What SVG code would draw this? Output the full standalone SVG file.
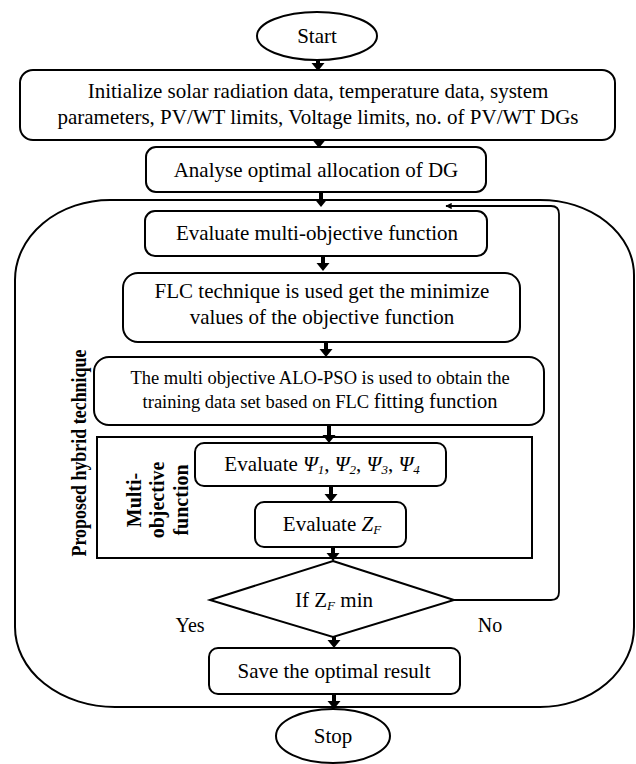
<svg xmlns="http://www.w3.org/2000/svg" width="636" height="764" viewBox="0 0 636 764">
  <defs>
    <style>
      .box { fill: #fff; stroke: #000; stroke-width: 2; }
      .frame { fill: none; stroke: #000; stroke-width: 2; }
      .t { font-family: "Liberation Serif", "Times New Roman", serif; fill: #000; text-anchor: middle; }
      .m { font-size: 21px; }
      .s { font-size: 18.5px; }
      .b { font-weight: bold; font-size: 20px; }
      .i { font-style: italic; }
      .sub { font-style: italic; font-size: 13px; }
      .flow { stroke: #000; stroke-width: 4; fill: none; }
      .loop { stroke: #000; stroke-width: 1.8; fill: none; }
      .tip { fill: #000; }
    </style>
    <!-- downward arrowhead, tip at the origin -->
    <path id="dn" class="tip" d="M-6.5,-8 L6.5,-8 L0,0 Z"/>
    <marker id="thin" viewBox="0 0 10 10" refX="9" refY="5" markerWidth="4.5" markerHeight="3.5" markerUnits="strokeWidth" orient="auto">
      <path d="M0,0 L10,5 L0,10 Z" fill="#000"/>
    </marker>
  </defs>

  <!-- outer frame of the hybrid technique -->
  <g id="hybrid-frame">
    <path class="frame" d="M110,200 L540,200 A94,75 0 0 1 634,275 L634,627 A94,80 0 0 1 540,707 L115,707 A100,80 0 0 1 15,627 L15,280 A95,80 0 0 1 110,200 Z"/>
    <text class="t b" transform="translate(86,453) rotate(-90)" textLength="207" lengthAdjust="spacingAndGlyphs">Proposed hybrid technique</text>
  </g>

  <g id="multi-frame">
    <rect class="frame" x="97" y="437" width="435" height="121"/>
    <text class="t b" font-size="21" transform="translate(0,500) rotate(-90)"><tspan x="0" y="141">Multi-</tspan><tspan x="0" y="164">objective</tspan><tspan x="0" y="188">function</tspan></text>
  </g>

  <g id="start">
    <ellipse class="box" cx="317" cy="36" rx="60" ry="24"/>
    <text class="t m" x="317" y="43">Start</text>
  </g>

  <g id="init">
    <rect class="box" x="20" y="70" width="595" height="70" rx="13"/>
    <text class="t m" x="318" y="98">Initialize solar radiation data, temperature data, system</text>
    <text class="t m" x="318" y="124">parameters, PV/WT limits, Voltage limits, no. of PV/WT DGs</text>
  </g>

  <g id="analyse">
    <rect class="box" x="146" y="147" width="340" height="45" rx="10"/>
    <text class="t m" x="316" y="177">Analyse optimal allocation of DG</text>
  </g>

  <g id="evaluate-mo">
    <rect class="box" x="145" y="211" width="342" height="45" rx="10"/>
    <text class="t m" x="317" y="240">Evaluate multi-objective function</text>
  </g>

  <g id="flc">
    <rect class="box" x="123" y="273" width="397" height="69" rx="15"/>
    <text class="t m" x="322" y="298">FLC technique is used get the minimize</text>
    <text class="t m" x="322" y="324">values of the objective function</text>
  </g>

  <g id="alo-pso">
    <rect class="box" x="94" y="357" width="450" height="68" rx="15"/>
    <text class="t s" x="320" y="384">The multi objective ALO-PSO is used to obtain the</text>
    <text class="t s" x="320" y="408">training data set based on FLC <tspan font-size="20.5">fitting function</tspan></text>
  </g>

  <g id="eval-psi">
    <rect class="box" x="195" y="443" width="251" height="43" rx="9"/>
    <text class="t m" x="322" y="471">Evaluate <tspan class="i">Ψ</tspan><tspan class="sub" dy="3">1</tspan><tspan dy="-3">, </tspan><tspan class="i">Ψ</tspan><tspan class="sub" dy="3">2</tspan><tspan dy="-3">, </tspan><tspan class="i">Ψ</tspan><tspan class="sub" dy="3">3</tspan><tspan dy="-3">, </tspan><tspan class="i">Ψ</tspan><tspan class="sub" dy="3">4</tspan></text>
  </g>

  <g id="eval-zf">
    <rect class="box" x="255" y="502" width="151" height="45" rx="9"/>
    <text class="t m" x="332" y="531">Evaluate <tspan class="i">Z</tspan><tspan class="sub" dy="3">F</tspan></text>
  </g>

  <g id="decision">
    <path class="box" d="M333,561 L454,600 L333,637 L210,600 Z"/>
    <text class="t m" x="334" y="607">If Z<tspan class="sub" dy="3">F</tspan><tspan dy="-3"> min</tspan></text>
  </g>

  <g id="save">
    <rect class="box" x="209" y="648" width="251" height="46" rx="9"/>
    <text class="t m" x="334" y="678">Save the optimal result</text>
  </g>

  <g id="stop">
    <ellipse class="box" cx="333" cy="736" rx="57" ry="27"/>
    <text class="t m" x="333" y="743">Stop</text>
  </g>

  <g id="connectors">
    <line class="flow" x1="318" y1="60" x2="318" y2="64"/><use href="#dn" x="318" y="71"/>
    <line class="flow" x1="319" y1="140" x2="319" y2="141"/><use href="#dn" x="319" y="148"/>
    <line class="flow" x1="321" y1="192" x2="321" y2="200"/><use href="#dn" x="321" y="207"/>
    <line class="flow" x1="323" y1="256" x2="323" y2="264"/><use href="#dn" x="323" y="271"/>
    <line class="flow" x1="326" y1="342" x2="326" y2="350"/><use href="#dn" x="326" y="357"/>
    <line class="flow" x1="329" y1="425" x2="329" y2="436"/><use href="#dn" x="329" y="443"/>
    <line class="flow" x1="331" y1="486" x2="331" y2="495"/><use href="#dn" x="331" y="502"/>
    <line class="flow" x1="333" y1="547" x2="333" y2="554"/><use href="#dn" x="333" y="561"/>
    <line class="flow" x1="334" y1="637" x2="334" y2="641"/><use href="#dn" x="334" y="648"/>
    <line class="flow" x1="334" y1="694" x2="334" y2="702"/><use href="#dn" x="334" y="709"/>
    <path class="loop" d="M454,600 L551,600 Q559,600 559,592 L559,214 Q559,206 551,206 L446,206" marker-end="url(#thin)"/>
    <text class="t" font-size="20" x="190" y="632">Yes</text>
    <text class="t" font-size="20" x="490" y="632">No</text>
  </g>
</svg>
